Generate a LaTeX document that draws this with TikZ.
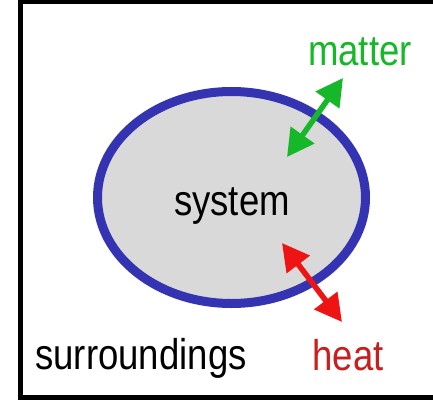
\documentclass[tikz,border=0pt]{standalone}
\usepackage{fontspec}
\setmainfont{Liberation Sans}
\usetikzlibrary{arrows.meta,shapes.geometric}
\definecolor{tdBlue}{HTML}{3434B2}
\definecolor{tdGrey}{HTML}{D9D9D9}
\definecolor{tdGreen}{HTML}{16B82A}
\definecolor{tdRed}{HTML}{EE1414}
\definecolor{tdWine}{HTML}{C81E1E}
\begin{document}
\begin{tikzpicture}[
    x=1pt, y=1pt,
    >={Triangle[length=27pt, width=28pt]},
    lbl/.style={font=\fontsize{43}{43}\selectfont, text=#1, inner sep=0pt,
                xscale=0.85, transform shape},
    arr/.style={<->, line width=5.5pt, draw=#1},
  ]
  \useasboundingbox (0,0) rectangle (433,405);
  % frame
  \draw[line width=5pt] (445,403) -- (20,403) -- (20,7.5) -- (445,7.5);
  % system
  \node[ellipse, draw=tdBlue, fill=tdGrey, line width=9pt,
        minimum width=268pt, minimum height=212pt] (sys) at (231.5,207.5) {};
  \node[lbl=black]   (sysl) at (232,199) {system};
  % labels
  \node[lbl=tdGreen] (mat) at (360,353) {matter};
  \node[lbl=tdWine]  (hot) at (348,50)  {heat};
  \node[lbl=black]   (sur) at (141,47)  {surroundings};
  % arrow ends
  \coordinate (matin)  at (287,248);
  \coordinate (matout) at (343,327);
  \coordinate (hotin)  at (282,162);
  \coordinate (hotout) at (342,83);
  % arrows
  \draw[arr=tdGreen] (matin) -- (matout);
  \draw[arr=tdRed]   (hotin) -- (hotout);
\end{tikzpicture}
\end{document}
